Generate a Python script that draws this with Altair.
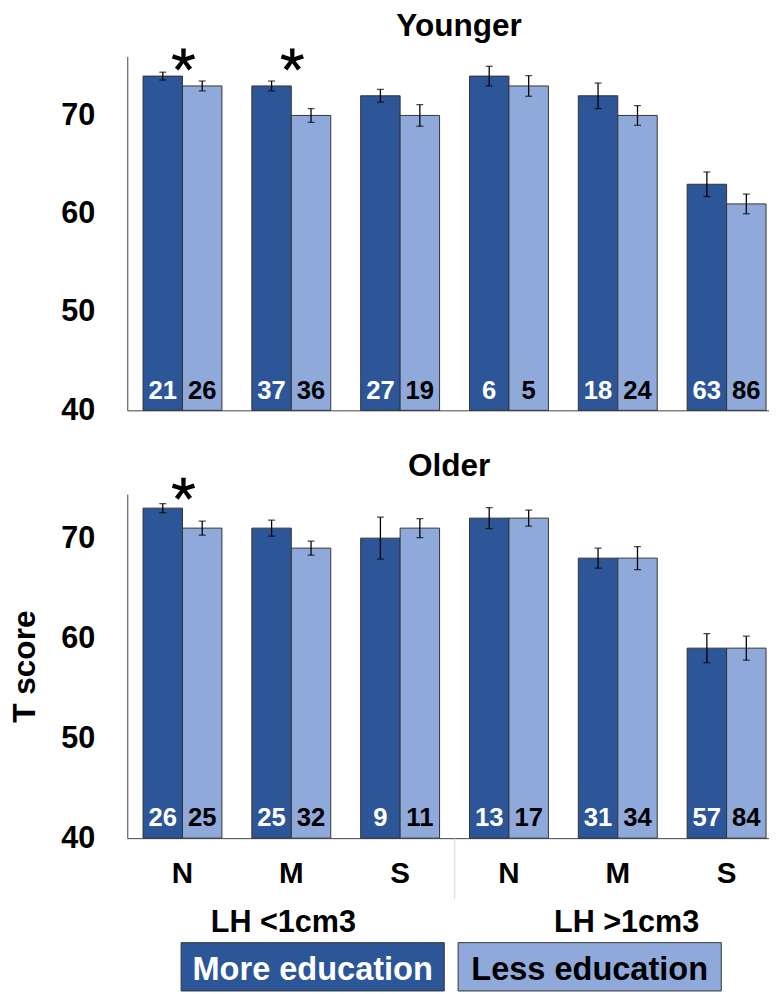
import math
import altair as alt
import pandas as pd

# ---- data ----
keys = ["N<", "M<", "S<", "N>", "M>", "S>"]
edus = ["More education", "Less education"]
lh_keys = ["M<", "M>"]
lh_labels = ["LH <1cm3", "LH >1cm3"]

young_more = [74, 73, 72, 74, 72, 63]
young_more_err = [0.4, 0.5, 0.65, 1.0, 1.3, 1.25]
young_less = [73, 70, 70, 73, 70, 61]
young_less_err = [0.5, 0.7, 1.1, 1.05, 1.0, 1.0]
young_n_more = [21, 37, 27, 6, 18, 63]
young_n_less = [26, 36, 19, 5, 24, 86]
young_sig = ["N<", "M<"]
young_sig_y = [75.65, 75.65]

old_more = [73, 71, 70, 72, 68, 59]
old_more_err = [0.45, 0.8, 2.1, 1.05, 1.0, 1.45]
old_less = [71, 69, 71, 72, 68, 59]
old_less_err = [0.7, 0.7, 0.95, 0.8, 1.15, 1.2]
old_n_more = [26, 25, 9, 13, 31, 57]
old_n_less = [25, 32, 11, 17, 34, 84]
old_sig = ["N<"]
old_sig_y = [74.9]

DARK = "#2C5697"
LIGHT = "#8FAADA"
FONT = "Liberation Sans"
W = 651


def asterisk_path(arms=5, w=0.2, r_in=0.3):
    pts = []
    for k in range(arms):
        a = math.radians(90 - 360.0 / arms * k)
        ca, sa = math.cos(a), math.sin(a)
        px, py = -sa, ca
        pts.append((ca + w * px, sa + w * py))
        pts.append((ca - w * px, sa - w * py))
        b = a - math.radians(180.0 / arms)
        pts.append((r_in * math.cos(b), r_in * math.sin(b)))
    return "M" + " L".join(f"{x:.3f},{-y:.3f}" for x, y in pts) + " Z"


STAR = asterisk_path()


def make_df(more, more_err, less, less_err, n_more, n_less):
    rows = []
    for i, k in enumerate(keys):
        rows.append(dict(key=k, edu=edus[0], value=more[i], lo=more[i] - more_err[i],
                         hi=more[i] + more_err[i], n=str(n_more[i])))
        rows.append(dict(key=k, edu=edus[1], value=less[i], lo=less[i] - less_err[i],
                         hi=less[i] + less_err[i], n=str(n_less[i])))
    return pd.DataFrame(rows)


xscale = alt.Scale(domain=keys, paddingInner=0.275, paddingOuter=0.086, align=0.842)
color_scale = alt.Scale(domain=edus, range=[DARK, LIGHT])
text_color = alt.condition(alt.datum.edu == edus[0], alt.value("white"), alt.value("black"))


def panel(df, sig_df, ymax, h, title, title_dx, title_offset, bottom):
    if bottom:
        xaxis = alt.Axis(labelExpr="substring(datum.value, 0, 1)", labelFontSize=30,
                         labelFontWeight="bold", labelColor="black", labelAngle=0,
                         labelPadding=21, ticks=False, tickSize=0, domainColor="#404040",
                         title=None)
        ytitle = "T score"
    else:
        xaxis = alt.Axis(labels=False, ticks=False, tickSize=0, domainColor="#404040", title=None)
        ytitle = None
    yaxis = alt.Axis(values=[40, 50, 60, 70], labelFontSize=31, labelFontWeight="bold",
                     labelColor="black", labelPadding=33, ticks=False, tickSize=0,
                     grid=False, domainColor="#404040", title=ytitle, titleFontSize=32,
                     titleFontWeight="bold", titleColor="black", titlePadding=20)
    yscale = alt.Scale(domain=[40, ymax], nice=False, zero=False)
    X = alt.X("key:N", scale=xscale, axis=xaxis, sort=keys)
    XO = alt.XOffset("edu:N", sort=edus, scale=alt.Scale(domain=edus))

    base = alt.Chart(df)
    bars = base.mark_bar(stroke="#333333", strokeWidth=1).encode(
        x=X, xOffset=XO,
        y=alt.Y("value:Q", scale=yscale, axis=yaxis),
        y2=alt.datum(40),
        color=alt.Color("edu:N", scale=color_scale, legend=None),
    )
    err = base.mark_rule(color="black", strokeWidth=1.3).encode(
        x=X, xOffset=XO, y=alt.Y("lo:Q", scale=yscale, axis=yaxis), y2="hi:Q")
    cap_hi = base.mark_tick(orient="horizontal", size=7, thickness=1.3, color="black").encode(
        x=X, xOffset=XO, y=alt.Y("hi:Q", scale=yscale, axis=yaxis))
    cap_lo = base.mark_tick(orient="horizontal", size=7, thickness=1.3, color="black").encode(
        x=X, xOffset=XO, y=alt.Y("lo:Q", scale=yscale, axis=yaxis))
    counts = base.mark_text(fontSize=26, fontWeight="bold", baseline="alphabetic", dy=-12).encode(
        x=X, xOffset=XO, y=alt.datum(40), text="n:N", color=text_color)
    stars = alt.Chart(sig_df).mark_point(shape=STAR, size=540, filled=True, color="black",
                                         opacity=1, strokeWidth=0, xOffset=1).encode(
        x=X, y=alt.Y("sy:Q", scale=yscale, axis=yaxis))

    layers = [bars, err, cap_hi, cap_lo, counts, stars]
    if bottom:
        lh_df = pd.DataFrame({"key": lh_keys, "label": lh_labels})
        lh1 = alt.Chart(lh_df.iloc[[0]]).mark_text(fontSize=31, fontWeight="bold",
                                                   baseline="alphabetic", dx=-8, color="black").encode(
            x=X, y=alt.value(h + 95), text="label:N")
        lh2 = alt.Chart(lh_df.iloc[[1]]).mark_text(fontSize=31, fontWeight="bold",
                                                   baseline="alphabetic", dx=9, color="black").encode(
            x=X, y=alt.value(h + 95), text="label:N")
        sep = alt.Chart(pd.DataFrame({"key": ["N>"]})).mark_rule(
            color="#d4d4d4", strokeWidth=1, xOffset=-15).encode(
            x=alt.X("key:N", scale=xscale, axis=xaxis, sort=keys, bandPosition=0),
            y=alt.value(h), y2=alt.value(h + 62))
        layers += [lh1, lh2, sep]

    main = alt.layer(*layers)
    if bottom:
        leg_df = pd.DataFrame({"edu": edus})
        legX = alt.X("edu:N", sort=edus, axis=None,
                     scale=alt.Scale(domain=edus, paddingInner=0.05, paddingOuter=0.1833, align=0.53))
        leg_rect = alt.Chart(leg_df).mark_rect(stroke="#333333", strokeWidth=1).encode(
            x=legX, y=alt.value(h + 106), y2=alt.value(h + 155),
            color=alt.Color("edu:N", scale=color_scale, legend=None))
        leg_text = alt.Chart(leg_df).mark_text(fontSize=33, fontWeight="bold", baseline="middle").encode(
            x=legX, y=alt.value(h + 133.5), text="edu:N", color=text_color)
        chart = alt.layer(main, alt.layer(leg_rect, leg_text)).resolve_scale(x="independent")
    else:
        chart = main
    return chart.properties(
        width=W, height=h,
        title=alt.Title(title, fontSize=32, fontWeight="bold", color="black", anchor="middle",
                        baseline="bottom", offset=title_offset, dx=title_dx),
    )


young_df = make_df(young_more, young_more_err, young_less, young_less_err, young_n_more, young_n_less)
old_df = make_df(old_more, old_more_err, old_less, old_less_err, old_n_more, old_n_less)
young_sig_df = pd.DataFrame({"key": young_sig, "sy": young_sig_y})
old_sig_df = pd.DataFrame({"key": old_sig, "sy": old_sig_y})

top = panel(young_df, young_sig_df, 76, 359, "Younger", 11, -26, False)
bot = panel(old_df, old_sig_df, 74.4, 349, "Older", 1, -37, True)

chart = alt.vconcat(top, bot, spacing=25).resolve_scale(
    x="independent", y="independent"
).properties(padding={"top": -6, "left": 0, "right": 0, "bottom": 0}).configure(
    font=FONT).configure_view(stroke=None)

chart.save("out.html", embed_options={"renderer": "svg", "actions": False})
